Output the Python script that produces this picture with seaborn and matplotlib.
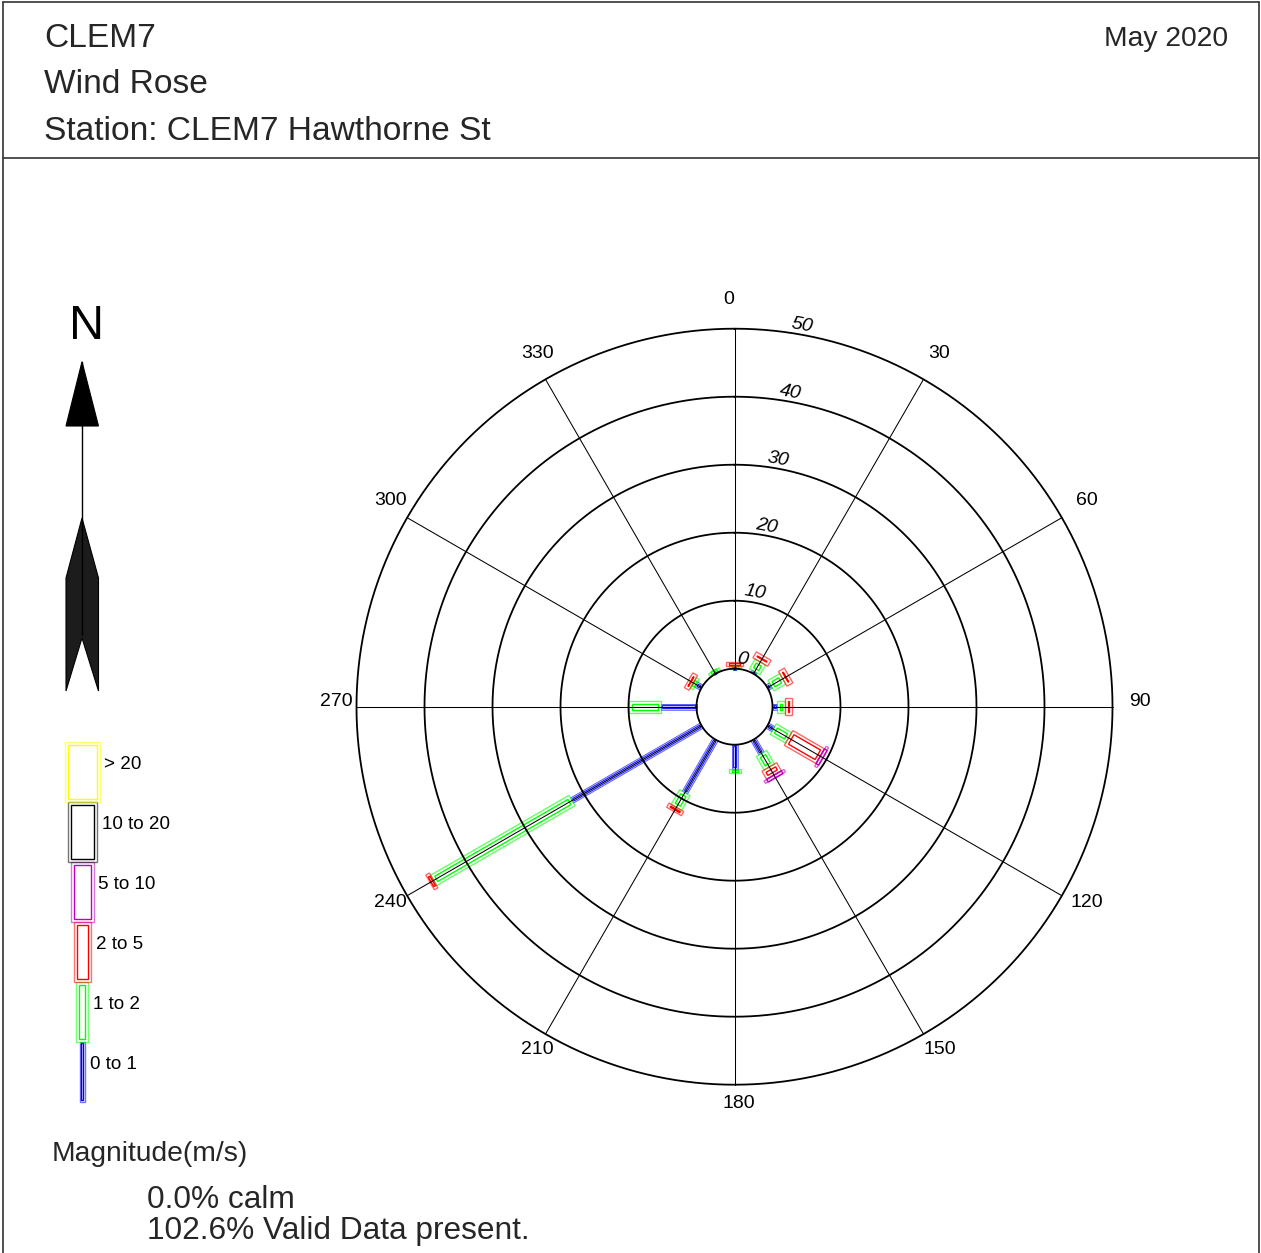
import numpy as np
import pandas as pd
import seaborn as sns
import matplotlib.pyplot as plt
from matplotlib.patches import Polygon

W, H, DPI = 1261, 1253, 100

# wind directions (deg clockwise from north) and % of time in each speed class
directions = [0, 30, 60, 90, 120, 150, 180, 210, 240, 270, 300, 330]
speed_classes = ["0 to 1", "1 to 2", "2 to 5", "5 to 10", "10 to 20", "> 20"]
pct_0_1 = [0.1, 0.35, 0.6, 0.7, 1.0, 2.35, 3.5, 9.0, 22.0, 5.25, 0.9, 0.1]
pct_1_2 = [0.3, 1.65, 2.0, 1.15, 2.6, 2.3, 0.7, 2.5, 23.5, 4.65, 0.5, 0.4]
pct_2_5 = [0.6, 1.0, 1.0, 1.0, 5.4, 1.4, 0.0, 0.7, 0.6, 0.0, 0.8, 0.0]
pct_5_10 = [0.0, 0.0, 0.0, 0.0, 0.4, 0.4, 0.0, 0.0, 0.0, 0.0, 0.0, 0.0]
pct_10_20 = [0.0] * 12
pct_gt_20 = [0.0] * 12
ring_values = [0, 10, 20, 30, 40, 50]
angle_ticks = [0, 30, 60, 90, 120, 150, 180, 210, 240, 270, 300, 330]
calm_pct = 0.0
valid_pct = 102.6

# styles
class_colors = ["#0000ff", "#00ff00", "#ff0000", "#c000c0", "#000000", "#ffff00"]
class_width_px = [6, 12, 17, 23, 29, 35]
CX, CY = 734.5, 706.7          # rose centre in pixels
PX_PER_UNIT = 6.8
HOLE = 38 / PX_PER_UNIT        # radius of the empty centre, in % units
HALF = 60                      # half span of the rose axes, in % units

sns.set_theme(style="white")
plt.rcParams['font.family'] = ['Liberation Sans', 'DejaVu Sans']

fig = plt.figure(figsize=(W / DPI, H / DPI), dpi=DPI)

# overlay axes in pixel coordinates for the page furniture
over = fig.add_axes([0, 0, 1, 1])
over.set_xlim(0, W)
over.set_ylim(H, 0)
over.set_axis_off()

# rose axes, data in % units
half_px = HALF * PX_PER_UNIT
ax = fig.add_axes([(CX - half_px) / W, (H - CY - half_px) / H,
                   2 * half_px / W, 2 * half_px / H])
ax.set_xlim(-HALF, HALF)
ax.set_ylim(-HALF, HALF)
ax.set_axis_off()


def px2pt(px):
    return px * 72 / DPI


# rings
t = np.linspace(0, 2 * np.pi, 721)
rings = pd.concat([pd.DataFrame({"x": (HOLE + v) * np.sin(t),
                                 "y": (HOLE + v) * np.cos(t),
                                 "ring": v}) for v in ring_values])
sns.lineplot(data=rings, x="x", y="y", units="ring", estimator=None, sort=False,
             color="black", lw=1.3, legend=False, ax=ax)

# spokes
spokes = pd.concat([pd.DataFrame({"x": [HOLE * np.sin(np.radians(a)), (HOLE + 50) * np.sin(np.radians(a))],
                                  "y": [HOLE * np.cos(np.radians(a)), (HOLE + 50) * np.cos(np.radians(a))],
                                  "spoke": a}) for a in angle_ticks])
sns.lineplot(data=spokes, x="x", y="y", units="spoke", estimator=None, sort=False,
             color="black", lw=0.75, legend=False, ax=ax)

# direction labels
lab_shift = 4 / PX_PER_UNIT
for a in angle_ticks:
    r = HOLE + 50 + 3.5
    dx = lab_shift if a != 0 else -0.8
    ax.text(r * np.sin(np.radians(a)) + dx, r * np.cos(np.radians(a)) + 5 / PX_PER_UNIT, str(a),
            ha="center", va="center", fontsize=14, color="black", clip_on=False)

# ring labels (italic, at 10 deg)
for v in ring_values:
    r = HOLE + v + 1.4
    ax.text(r * np.sin(np.radians(10)), r * np.cos(np.radians(10)), str(v),
            ha="center", va="center", fontsize=14, style="italic", rotation=-10,
            rotation_mode="anchor", color="black")


def double_rect(axis, a, b, half_w, inset, ang, color, fill_alpha, lw):
    """outer + inner outline of a bar segment from radius a to b along ang"""
    u = np.array([np.sin(ang), np.cos(ang)])
    p = np.array([np.cos(ang), -np.sin(ang)])
    outer = [a * u + half_w * p, b * u + half_w * p, b * u - half_w * p, a * u - half_w * p]
    if fill_alpha > 0:
        axis.add_patch(Polygon(outer, closed=True, facecolor=color, edgecolor="none",
                               alpha=fill_alpha))
    for lo, hi, hw, alpha in [(a, b, half_w, 0.6), (a + inset, b - inset, half_w - inset, 1.0)]:
        pts = [lo * u + hw * p, hi * u + hw * p, hi * u - hw * p, lo * u - hw * p]
        axis.add_patch(Polygon(pts, closed=True, fill=False, edgecolor=color,
                               lw=lw, alpha=alpha, joinstyle="miter"))


series = [pct_0_1, pct_1_2, pct_2_5, pct_5_10, pct_10_20, pct_gt_20]
for i, d in enumerate(directions):
    start = HOLE
    ang = np.radians(d)
    for k, vals in enumerate(series):
        v = vals[i]
        if v <= 0:
            continue
        w_units = class_width_px[k] / PX_PER_UNIT
        inset = min(3, class_width_px[k] * 0.27) / PX_PER_UNIT
        if k == 0:
            double_rect(ax, start, start + v, w_units / 2, inset, ang, class_colors[k], 0.25, 0.6)
        else:
            double_rect(ax, start, start + v, w_units / 2, inset, ang, class_colors[k], 0, 1.0)
        start += v

# legend (pixel coordinates, vertical stack)
leg_x, leg_bottom, leg_len = 82, 1101.7, 60
legend_width_px = [5, 12, 17, 23, 29, 35]
for k, lab in enumerate(speed_classes):
    w = legend_width_px[k]
    y0 = leg_bottom - leg_len * k
    y1 = y0 - leg_len
    inset = min(3, w * 0.27)
    for lo, hi, hw, alpha in [(y0, y1, w / 2, 0.55), (y0 - inset, y1 + inset, w / 2 - inset, 1.0)]:
        over.add_patch(Polygon([(leg_x - hw, lo), (leg_x - hw, hi), (leg_x + hw, hi), (leg_x + hw, lo)],
                               closed=True, fill=False, edgecolor=class_colors[k], lw=1.0, alpha=alpha))
    over.text(leg_x + w / 2 + 5, (y0 + y1) / 2 - 2.7, lab, ha="left", va="baseline",
              fontsize=px2pt(18.9), color="black")

# north arrow
over.plot([82, 82], [362, 635], color="black", lw=1)
over.add_patch(Polygon([(82, 361.7), (66, 426), (98.5, 426)], closed=True,
                       facecolor="black", edgecolor="black", lw=0.8))
over.add_patch(Polygon([(82, 518), (98.5, 578), (98.5, 691), (82, 638), (66, 691), (66, 578)],
                       closed=True, facecolor="#1c1c1c", edgecolor="black", lw=0.8))
over.text(87, 339, "N", ha="center", va="baseline", fontsize=px2pt(48.5), color="black")

# frame and header
fc = "#333333"
over.plot([3, 1259], [2, 2], color=fc, lw=1.2)
over.plot([3, 3], [2, H], color=fc, lw=1.2)
over.plot([1259, 1259], [2, H], color=fc, lw=1.2)
over.plot([3, 1259], [158, 158], color=fc, lw=1.2)

over.text(44, 47, "CLEM7", ha="left", va="baseline", fontsize=px2pt(33.5))
over.text(44, 93, "Wind Rose", ha="left", va="baseline", fontsize=px2pt(33.5))
over.text(44, 140, "Station: CLEM7 Hawthorne St", ha="left", va="baseline", fontsize=px2pt(33.5))
over.text(1228, 46, "May 2020", ha="right", va="baseline", fontsize=px2pt(28.2))

over.text(52, 1161, "Magnitude(m/s)", ha="left", va="baseline", fontsize=px2pt(28.3))
over.text(147, 1208, f"{calm_pct:.1f}% calm", ha="left", va="baseline", fontsize=px2pt(31.6))
over.text(147, 1239, f"{valid_pct:.1f}% Valid Data present.", ha="left", va="baseline",
          fontsize=px2pt(31.6))

fig.savefig("out.png", dpi=DPI, facecolor="white")
